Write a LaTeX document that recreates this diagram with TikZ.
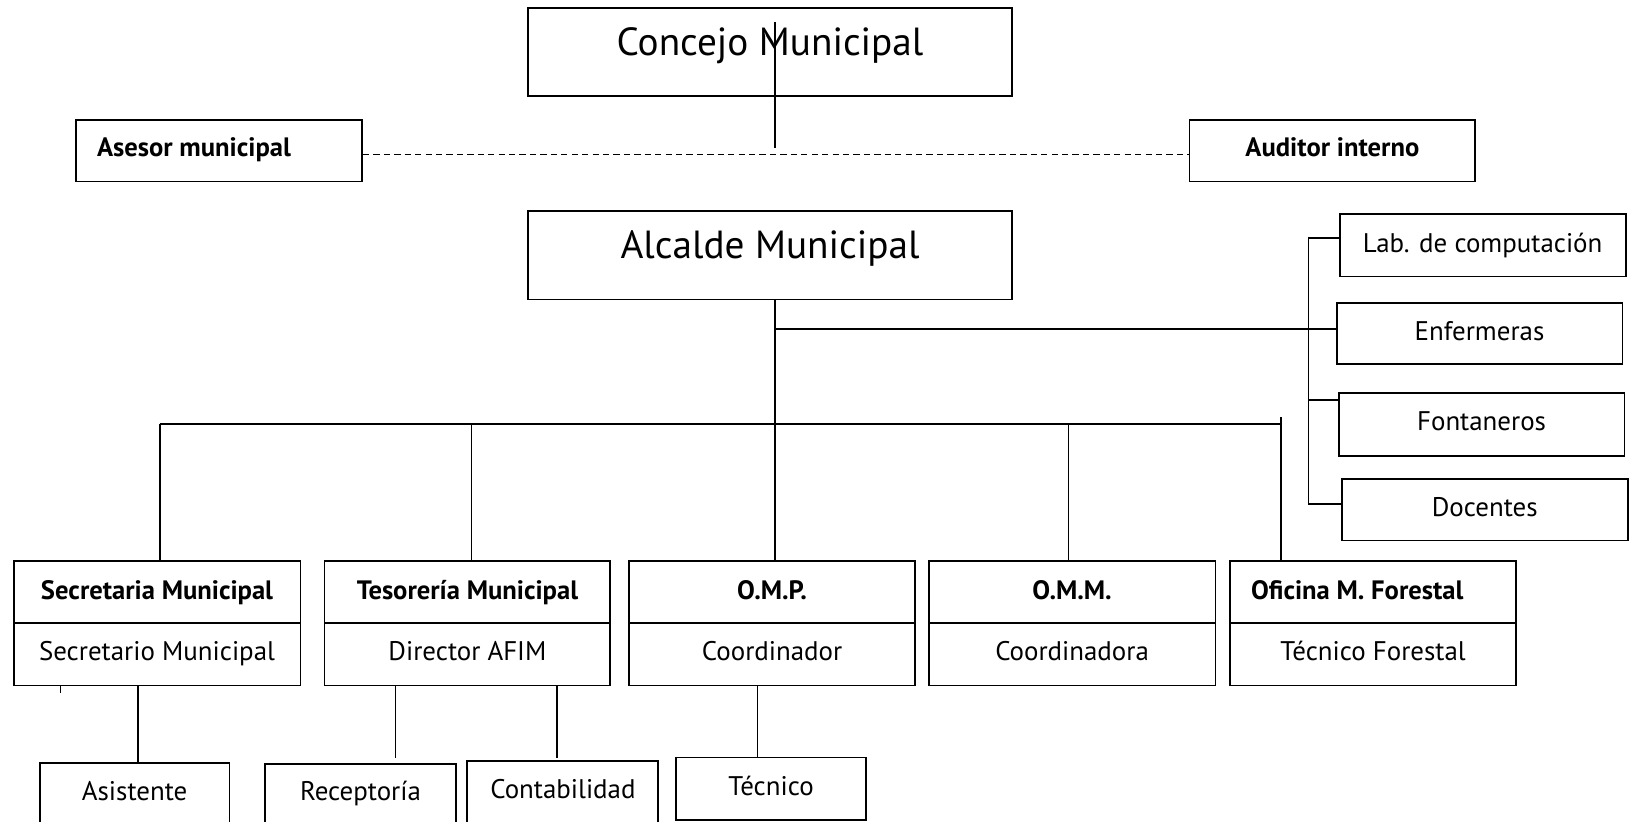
\documentclass[tikz,border=0pt]{standalone}
\usepackage{fontspec}
\setmainfont{PT Sans}
\newcommand\rb[2]{\raisebox{#1pt}[0pt][0pt]{#2}}
\begin{document}
\begin{tikzpicture}[x=1pt,y=-1pt,
  box/.style={draw, line width=1.8pt, inner sep=0pt},
  big/.style={font=\fontsize{37.6}{40}\selectfont},
  norm/.style={font=\fontsize{25.8}{28}\selectfont},
  hdr/.style={font=\bfseries\fontsize{25.5}{28}\selectfont},
  conn/.style={line width=1.7pt},
  dline/.style={line width=1.6pt, dash pattern=on 6pt off 4pt}]
\useasboundingbox (0,0) rectangle (1568,787);
\clip (0,0) rectangle (1568,787);
% top
\node[box,big,minimum width=464pt,minimum height=84pt] (concejo) at (738,50) {\rb{-3}{Concejo Municipal}};
\node[box,hdr,minimum width=274pt,minimum height=59pt] (asesor) at (210,144.5) {\rb{-5.5}{\makebox[234pt][l]{Asesor municipal}}};
\node[box,hdr,minimum width=274pt,minimum height=59pt] (auditor) at (1277,144.5) {\rb{-5.5}{Auditor interno}};
\node[box,big,minimum width=464pt,minimum height=85pt] (alcalde) at (738,244.5) {\rb{-3.5}{Alcalde Municipal}};
% right column
\node[box,norm,minimum width=274pt,minimum height=60pt] (lab) at (1421,235) {\rb{-7}{Lab. de computación}};
\node[box,norm,minimum width=274pt,minimum height=59pt] (enf) at (1418,319.5) {\rb{-6.5}{Enfermeras}};
\node[box,norm,minimum width=274pt,minimum height=60pt] (fon) at (1420,407) {\rb{-6}{Fontaneros}};
\node[box,norm,minimum width=274pt,minimum height=59pt] (doc) at (1423,488.5) {\rb{-6.5}{Docentes}};
% departments
\node[box,hdr,minimum width=275pt,minimum height=59pt] (secH) at (150.5,567.5) {\rb{-7.5}{Secretaria Municipal}};
\node[box,norm,minimum width=275pt,minimum height=60pt] (secS) at (150.5,627) {\rb{-6}{Secretario Municipal}};
\node[box,hdr,minimum width=274pt,minimum height=59pt] (tesH) at (448,567.5) {\rb{-7.5}{Tesorería Municipal}};
\node[box,norm,minimum width=274pt,minimum height=60pt] (tesS) at (448,627) {\rb{-6}{Director AFIM}};
\node[box,hdr,minimum width=274pt,minimum height=59pt] (ompH) at (740,567.5) {\rb{-7.5}{O.M.P.}};
\node[box,norm,minimum width=274pt,minimum height=60pt] (ompS) at (740,627) {\rb{-6}{Coordinador}};
\node[box,hdr,minimum width=275pt,minimum height=59pt] (ommH) at (1027.5,567.5) {\rb{-7.5}{O.M.M.}};
\node[box,norm,minimum width=275pt,minimum height=60pt] (ommS) at (1027.5,627) {\rb{-6}{Coordinadora}};
\node[box,hdr,minimum width=274pt,minimum height=59pt] (forH) at (1316,567.5) {\rb{-7.5}{\makebox[234pt][l]{Oficina M. Forestal}}};
\node[box,norm,minimum width=274pt,minimum height=60pt] (forS) at (1316,627) {\rb{-6}{Técnico Forestal}};
% bottom
\node[box,norm,minimum width=182pt,minimum height=60pt] (asist) at (129,761) {\rb{-6}{Asistente}};
\node[box,norm,minimum width=183pt,minimum height=60pt] (recep) at (345.5,762) {\rb{-5}{Receptoría}};
\node[box,norm,minimum width=183pt,minimum height=60pt] (conta) at (539.5,759) {\rb{-6}{Contabilidad}};
\node[box,norm,minimum width=182pt,minimum height=60pt] (tec) at (739,756) {\rb{-6}{Técnico}};
% coordinates
\coordinate (ctop) at (743,21);
\coordinate (cbot) at (743,142);
\coordinate (hj) at (743,315);
\coordinate (s1) at (1254,228);
\coordinate (s2) at (1254,315);
\coordinate (s3) at (1254,383);
\coordinate (s4) at (1254,483);
\coordinate (bl) at (153,406);
\coordinate (br) at (1228,406);
\coordinate (brt) at (1228,400);
\coordinate (tick) at (58,664);
% connectors
\draw[conn] (ctop) -- (cbot);
\draw[dline] ([yshift=-3.5pt]asesor.east) -- ([yshift=-3.5pt]auditor.west);
\draw[conn] ([xshift=5pt]alcalde.south) -- ([xshift=5pt]alcalde.south |- ompH.north);
\draw[conn] (hj) -- (s2);
\draw[conn] (s1) -- (s4);
\draw[conn] (s1) -- (s1 -| lab.west);
\draw[conn] (s2) -- (s2 -| enf.west);
\draw[conn] (s3) -- (s3 -| fon.west);
\draw[conn] (s4) -- (s4 -| doc.west);
\draw[conn] (bl) -- (br);
\draw[conn] (bl) -- (bl |- secH.north);
\draw[conn] ([xshift=4pt]tesH.north |- bl) -- ([xshift=4pt]tesH.north);
\draw[conn] ([xshift=-3.5pt]ommH.north |- bl) -- ([xshift=-3.5pt]ommH.north);
\draw[conn] (brt) -- (brt |- forH.north);
\draw[conn] (tick |- secS.south) -- (tick);
\draw[conn] ([xshift=3pt]asist.north) -- ([xshift=3pt]asist.north |- secS.south);
\draw[conn] ([xshift=33.5pt,yshift=5pt]recep.north) -- ([xshift=33.5pt]recep.north |- tesS.south);
\draw[conn] ([xshift=-5.5pt,yshift=2pt]conta.north) -- ([xshift=-5.5pt]conta.north |- tesS.south);
\draw[conn] ([xshift=-13pt,yshift=-1pt]tec.north) -- ([xshift=-13pt]tec.north |- ompS.south);
\end{tikzpicture}
\end{document}
